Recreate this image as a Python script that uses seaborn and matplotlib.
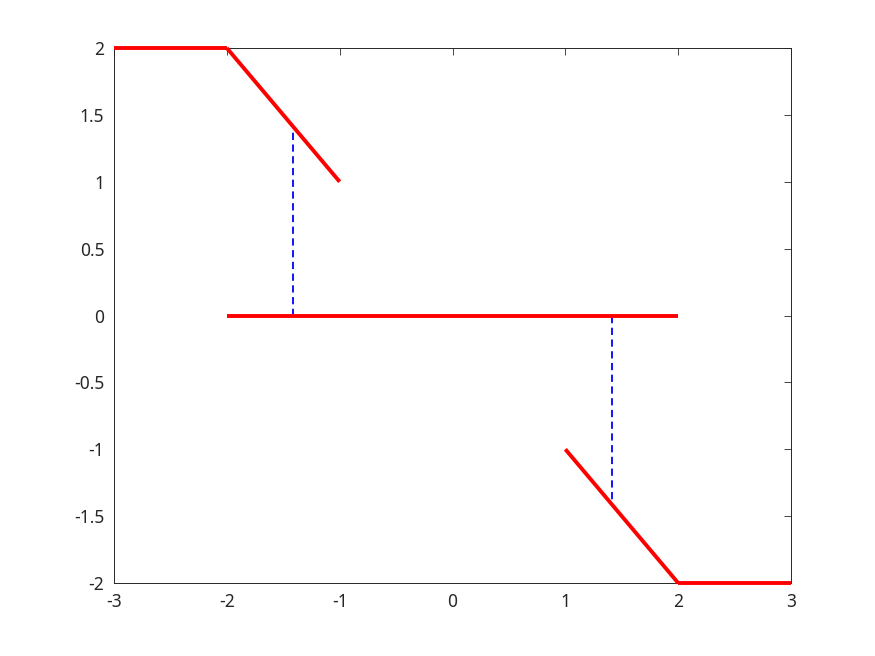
import matplotlib
matplotlib.use('Agg')
import matplotlib.pyplot as plt
import seaborn as sns
import numpy as np

# piecewise red segments (x pairs, y pairs)
seg_x = [[-3, -2], [-2, -1], [-2, 2], [1, 2], [2, 3]]
seg_y = [[2, 2], [2, 1], [0, 0], [-1, -2], [-2, -2]]

# dashed blue connectors at x = -sqrt(2), sqrt(2)
r2 = np.sqrt(2)
dash_x = [[-r2, -r2], [r2, r2]]
dash_y = [[0, r2], [0, -r2]]

x_ticks = [-3, -2, -1, 0, 1, 2, 3]
y_ticks = [-2, -1.5, -1, -0.5, 0, 0.5, 1, 1.5, 2]

sns.set_style('white')
plt.rcParams['font.family'] = ['Noto Sans', 'DejaVu Sans']

fig = plt.figure(figsize=(8.75, 6.56), dpi=100)
ax = fig.add_axes([0.1303, 0.1113, 0.7737, 0.8155])

for xs, ys in zip(dash_x, dash_y):
    sns.lineplot(x=xs, y=ys, ax=ax, color='blue', linewidth=1.3, linestyle=(0, (4, 2.5)),
                 sort=False, estimator=None)
for xs, ys in zip(seg_x, seg_y):
    sns.lineplot(x=xs, y=ys, ax=ax, color='red', linewidth=2.8, sort=False, estimator=None,
                 solid_capstyle='butt', clip_on=False, zorder=3)

ax.set_xlim(-3, 3)
ax.set_ylim(-2, 2)
ax.set_xticks(x_ticks)
ax.set_yticks(y_ticks)
ax.set_xticklabels([str(v) for v in x_ticks])
ax.set_yticklabels([('%g' % v) for v in y_ticks])
ax.tick_params(direction='in', length=5, width=0.6, top=True, right=True,
               colors='#262626', labelsize=12.5, labelcolor='#262626')
ax.tick_params(axis='x', pad=7)
ax.tick_params(axis='y', pad=7)
for s in ax.spines.values():
    s.set_color('#262626')
    s.set_linewidth(0.7)
ax.set_xlabel('')
ax.set_ylabel('')

fig.savefig('out.png', dpi=100)
